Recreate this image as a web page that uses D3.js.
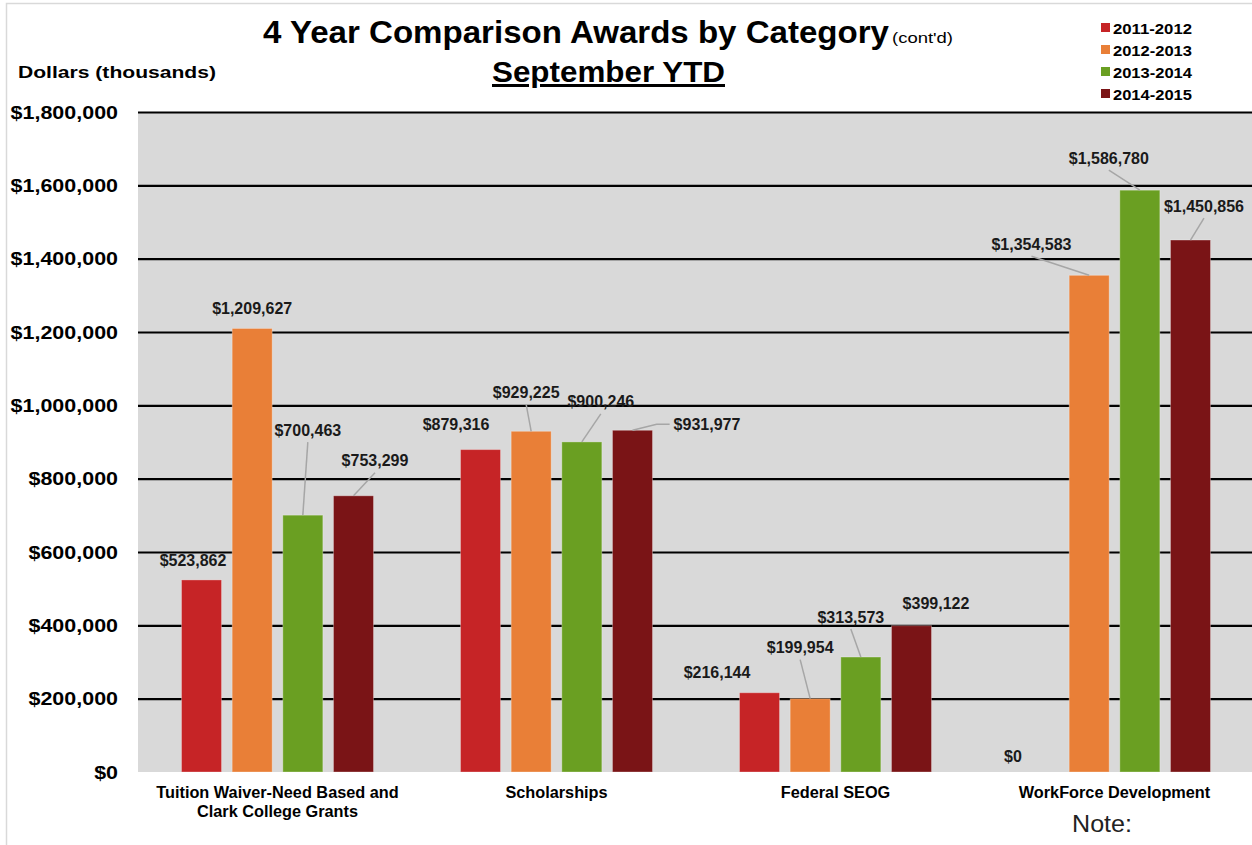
<!DOCTYPE html>
<html>
<head>
<meta charset="utf-8">
<script src="https://cdn.jsdelivr.net/npm/d3@7"></script>
<style>
  html, body { margin: 0; padding: 0; background: #fff; }
  svg { display: block; }
  text { font-family: "Liberation Sans", Arial, sans-serif; }
</style>
</head>
<body>
<svg id="chart" width="1252" height="845"></svg>
<script>
// ---- data ----
const categories = [
  ["Tuition Waiver-Need Based and", "Clark College Grants"],
  ["Scholarships"],
  ["Federal SEOG"],
  ["WorkForce Development"]
];
const seriesNames = ["2011-2012", "2012-2013", "2013-2014", "2014-2015"];
const s2011 = [523862, 879316, 216144, 0];
const s2012 = [1209627, 929225, 199954, 1354583];
const s2013 = [700463, 900246, 313573, 1586780];
const s2014 = [753299, 931977, 399122, 1450856];
const yTicks = [0, 200000, 400000, 600000, 800000, 1000000, 1200000, 1400000, 1600000, 1800000];

// ---- styles / label placement (not data) ----
const colors = ["#C62426", "#E97F37", "#6A9F22", "#7A1416"];
// label offset relative to bar top-centre: [dx, dy, leaderMode]
const labelOffsets = [
  [[-8.5, -19, null], [0, -20, null], [5, -85, "bottom"], [21.5, -35, "bottom"]],
  [[-24.5, -25, null], [-5, -39, "bottom"], [19, -40, "bottom"], [74.5, -6, "left"]],
  [[-42.5, -20, null], [-10, -51, "bottom"], [-10, -40, "bottom"], [24.5, -22, null]],
  [[-25.5, -16, null], [-57.7, -31, "bottom"], [-31, -32, "bottom"], [13.5, -34, "bottom"]]
];

const allSeries = [s2011, s2012, s2013, s2014];
const svg = d3.select("#chart");
const W = 1252, H = 845;
const plot = { left: 138, right: 1254, top: 112, bottom: 772 };

// chart border
svg.append("rect").attr("x", 6.5).attr("y", 3.5).attr("width", W + 10).attr("height", H + 10)
  .attr("fill", "none").attr("stroke", "#D9D9D9").attr("stroke-width", 1.5);

const x0 = d3.scaleBand().domain(d3.range(categories.length)).range([plot.left, plot.right]).padding(0);
const x1 = d3.scaleBand().domain(d3.range(seriesNames.length))
  .range([43.5, x0.bandwidth() - 43.5]).paddingInner(0.21).paddingOuter(0);
const y = d3.scaleLinear().domain([0, 1800000]).range([plot.bottom, plot.top]);

// plot background
svg.append("rect").attr("x", plot.left).attr("y", plot.top)
  .attr("width", plot.right - plot.left).attr("height", plot.bottom - plot.top)
  .attr("fill", "#D9D9D9");

// gridlines
const yAxisGrid = d3.axisLeft(y).tickValues(yTicks.filter(d => d > 0))
  .tickSize(-(plot.right - plot.left)).tickFormat("");
const gridG = svg.append("g").attr("transform", `translate(${plot.left},0)`).call(yAxisGrid);
gridG.select(".domain").remove();
gridG.selectAll("line").attr("stroke", "#000").attr("stroke-width", 2.2);

// y axis labels (horizontally stretched like the original)
const fmt = v => "$" + d3.format(",")(v);
const sx = 1.13;
const yAxis = d3.axisLeft(y).tickValues(yTicks).tickSize(0).tickPadding(20).tickFormat(fmt);
const yG = svg.append("g").attr("transform", `translate(${plot.left},0)`).call(yAxis);
yG.select(".domain").remove();
yG.selectAll("text").attr("font-size", 19).attr("font-weight", "bold")
  .attr("font-family", "'Liberation Sans', Arial, sans-serif").attr("fill", "#000")
  .attr("x", -20 / sx).attr("transform", `scale(${sx},1)`);

// bars
const rows = [];
categories.forEach((c, i) => allSeries.forEach((s, j) => rows.push({ i, j, v: s[i] })));
svg.append("g").selectAll("rect").data(rows).join("rect")
  .attr("x", d => x0(d.i) + x1(d.j))
  .attr("y", d => y(d.v))
  .attr("width", x1.bandwidth())
  .attr("height", d => y(0) - y(d.v))
  .attr("fill", d => colors[d.j])
  .attr("stroke", d => d.v > 0 ? "rgba(255,255,255,0.3)" : "none")
  .attr("stroke-width", 1);

// data labels + leader lines
const labG = svg.append("g");
rows.forEach(d => {
  const o = labelOffsets[d.i][d.j];
  const bx = x0(d.i) + x1(d.j) + x1.bandwidth() / 2;
  const by = y(d.v);
  const tx = bx + o[0], ty = by + o[1];
  const t = labG.append("text").attr("x", tx).attr("y", ty)
    .attr("text-anchor", "middle").attr("dominant-baseline", "central")
    .attr("font-size", 16).attr("font-weight", "bold").attr("fill", "#1a1a1a")
    .text(fmt(d.v));
  if (o[2] === "bottom") {
    labG.append("line").attr("x1", tx).attr("y1", ty + 12).attr("x2", bx).attr("y2", by)
      .attr("stroke", "#A6A6A6").attr("stroke-width", 1.5);
  } else if (o[2] === "left") {
    const w = t.node().getComputedTextLength();
    const lx = tx - w / 2 - 4;
    labG.append("polyline")
      .attr("points", `${lx},${ty} ${lx - 13},${ty} ${bx},${by}`)
      .attr("fill", "none").attr("stroke", "#A6A6A6").attr("stroke-width", 1.5);
  }
});

// category labels
const catG = svg.append("g");
categories.forEach((lines, i) => {
  const cx = x0(i) + x0.bandwidth() / 2;
  const t = catG.append("text").attr("x", cx).attr("y", 798)
    .attr("text-anchor", "middle").attr("font-size", 16.3).attr("font-weight", "bold").attr("fill", "#000");
  lines.forEach((l, k) => t.append("tspan").attr("x", cx)
    .attr("dy", k === 0 ? 0 : 19).text(l));
});

// titles
svg.append("text").attr("x", 263).attr("y", 43).attr("font-size", 32).attr("font-weight", "bold")
  .attr("fill", "#000").attr("textLength", 626).attr("lengthAdjust", "spacingAndGlyphs")
  .text("4 Year Comparison Awards by Category");
svg.append("text").attr("x", 892).attr("y", 43).attr("font-size", 15).attr("fill", "#000")
  .attr("textLength", 61).attr("lengthAdjust", "spacingAndGlyphs").text("(cont'd)");
svg.append("text").attr("x", 492).attr("y", 82)
  .attr("font-size", 30).attr("font-weight", "bold").attr("fill", "#000")
  .attr("textLength", 233).attr("lengthAdjust", "spacingAndGlyphs")
  .attr("text-decoration", "underline").text("September YTD");
svg.append("text").attr("x", 18).attr("y", 78).attr("font-size", 17).attr("font-weight", "bold")
  .attr("fill", "#000").attr("textLength", 198).attr("lengthAdjust", "spacingAndGlyphs")
  .text("Dollars (thousands)");

// legend
const leg = svg.append("g").attr("transform", "translate(1101,28)");
seriesNames.forEach((n, k) => {
  const g = leg.append("g").attr("transform", `translate(0,${k * 22})`);
  g.append("rect").attr("x", 0).attr("y", -5).attr("width", 9).attr("height", 9).attr("fill", colors[k]);
  g.append("text").attr("x", 12).attr("y", 0).attr("dominant-baseline", "central")
    .attr("font-size", 15).attr("font-weight", "bold").attr("fill", "#000")
    .attr("textLength", 79).attr("lengthAdjust", "spacingAndGlyphs").text(n);
});

// note
svg.append("text").attr("x", 1072).attr("y", 832).attr("font-size", 24).attr("fill", "#222")
  .attr("font-family", "'DejaVu Sans', sans-serif").attr("font-weight", 300)
  .attr("textLength", 60).attr("lengthAdjust", "spacingAndGlyphs").text("Note:");
</script>
</body>
</html>
